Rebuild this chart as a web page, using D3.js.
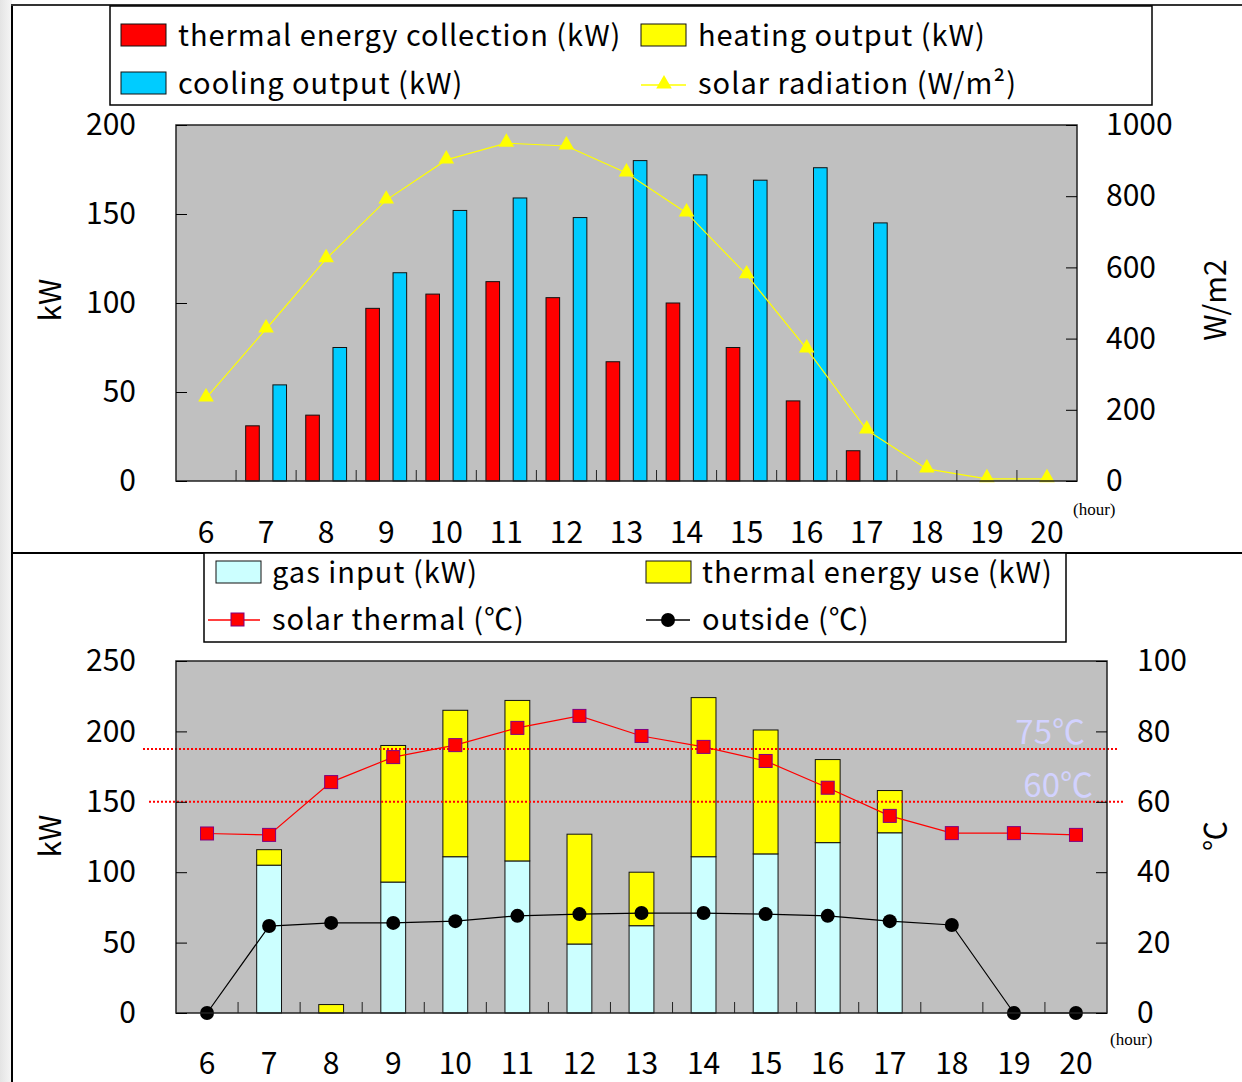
<!DOCTYPE html>
<html>
<head>
<meta charset="utf-8">
<script src="https://cdn.jsdelivr.net/npm/d3@7"></script>
<style>
body { margin: 0; background: #fff; }
svg { display: block; }
text { font-family: "Noto Sans CJK JP", "DejaVu Sans", sans-serif; fill: #000; }
</style>
</head>
<body>
<svg id="chart" width="1242" height="1082"></svg>
<script>
// hours on the x axis (both panels)
var hours = [6, 7, 8, 9, 10, 11, 12, 13, 14, 15, 16, 17, 18, 19, 20];

// top panel
var thermalCollection = [0, 31, 37, 97, 105, 112, 103, 67, 100, 75, 45, 17, 0, 0, 0];
var heatingOutput = [0, 0, 0, 0, 0, 0, 0, 0, 0, 0, 0, 0, 0, 0, 0];
var coolingOutput = [0, 54, 75, 117, 152, 159, 148, 180, 172, 169, 176, 145, 0, 0, 0];
var solarRadiation = [233, 427, 624, 789, 902, 949, 941, 865, 753, 579, 371, 143, 34, 6, 6];
var topKwTicks = [0, 50, 100, 150, 200];
var radTicks = [0, 200, 400, 600, 800, 1000];

// bottom panel
var gasInput = [0, 105, 0, 93, 111, 108, 49, 62, 111, 113, 121, 128, 0, 0, 0];
var thermalUse = [0, 11, 6, 97, 104, 114, 78, 38, 113, 88, 59, 30, 0, 0, 0];
var solarThermal = [51, 50.6, 65.6, 72.7, 76.1, 81, 84.4, 78.7, 75.6, 71.6, 64, 56, 51.1, 51.1, 50.6];
var outsideTemp = [0, 24.7, 25.6, 25.6, 26.1, 27.6, 28.1, 28.4, 28.4, 28.1, 27.6, 26.1, 25, 0, 0];
var bottomKwTicks = [0, 50, 100, 150, 200, 250];
var degTicks = [0, 20, 40, 60, 80, 100];
var refTemps = [75, 60];

var svg = d3.select("#chart");

// page frame
var grad = svg.append("defs").append("linearGradient").attr("id", "edge");
grad.append("stop").attr("offset", "0%").attr("stop-color", "#e4e4e4");
grad.append("stop").attr("offset", "100%").attr("stop-color", "#f6f6f6");
svg.append("rect").attr("x", 0).attr("y", 0).attr("width", 12).attr("height", 1082).attr("fill", "url(#edge)");
svg.append("line").attr("x1", 12).attr("x2", 12).attr("y1", 4).attr("y2", 1082).attr("stroke", "#000").attr("stroke-width", 2);
svg.append("line").attr("x1", 11).attr("x2", 1242).attr("y1", 5).attr("y2", 5).attr("stroke", "#333").attr("stroke-width", 2);
svg.append("line").attr("x1", 11).attr("x2", 1242).attr("y1", 553).attr("y2", 553).attr("stroke", "#000").attr("stroke-width", 2);

function hideDomain(g) { g.select(".domain").remove(); }

/** Top panel */
var tp = {left: 176, right: 1077, top: 125, bottom: 481};
var x1 = d3.scaleBand().domain(hours).range([tp.left, tp.right]).padding(0);
var xSub = d3.scaleBand().domain(["collect", "heat", "cool"])
    .range([x1.bandwidth() * 0.16, x1.bandwidth() * 0.84]).padding(0);
var y1 = d3.scaleLinear().domain([0, 200]).range([tp.bottom, tp.top]);
var y1r = d3.scaleLinear().domain([0, 1000]).range([tp.bottom, tp.top]);

svg.append("rect").attr("x", tp.left).attr("y", tp.top)
    .attr("width", tp.right - tp.left).attr("height", tp.bottom - tp.top)
    .attr("fill", "#c0c0c0");

var topRows = hours.map(function (h, i) {
    return {hour: h, collect: thermalCollection[i], heat: heatingOutput[i], cool: coolingOutput[i]};
});
var topColors = {collect: "#ff0000", heat: "#ffff00", cool: "#00ccff"};

svg.append("g").selectAll("g")
    .data(topRows)
    .enter().append("g")
    .attr("transform", function (d) { return "translate(" + x1(d.hour) + ",0)"; })
    .selectAll("rect")
    .data(function (d) {
        return ["collect", "heat", "cool"].filter(function (k) { return d[k] > 0; })
            .map(function (k) { return {key: k, value: d[k]}; });
    })
    .enter().append("rect")
    .attr("x", function (d) { return xSub(d.key); })
    .attr("y", function (d) { return y1(d.value); })
    .attr("width", xSub.bandwidth())
    .attr("height", function (d) { return y1(0) - y1(d.value); })
    .attr("fill", function (d) { return topColors[d.key]; })
    .attr("stroke", "#111").attr("stroke-width", 1);

// solar radiation line
var radLine = d3.line()
    .x(function (d, i) { return x1(hours[i]) + x1.bandwidth() / 2; })
    .y(function (d) { return y1r(d); });
svg.append("path").datum(solarRadiation)
    .attr("d", radLine).attr("fill", "none").attr("stroke", "#ffff00").attr("stroke-width", 1.2);
svg.append("g").selectAll("path")
    .data(solarRadiation)
    .enter().append("path")
    .attr("d", d3.symbol().type(d3.symbolTriangle).size(105))
    .attr("transform", function (d, i) {
        return "translate(" + (x1(hours[i]) + x1.bandwidth() / 2) + "," + (y1r(d) - 1) + ")";
    })
    .attr("fill", "#ffff00");

// plot border
svg.append("rect").attr("x", tp.left).attr("y", tp.top)
    .attr("width", tp.right - tp.left).attr("height", tp.bottom - tp.top)
    .attr("fill", "none").attr("stroke", "#222").attr("stroke-width", 1.5);

svg.append("g").attr("transform", "translate(" + tp.left + ",0)")
    .call(d3.axisLeft(y1).tickValues(topKwTicks).tickSize(-11).tickPadding(40))
    .call(hideDomain);
svg.append("g").attr("transform", "translate(" + tp.right + ",0)")
    .call(d3.axisRight(y1r).tickValues(radTicks).tickFormat(d3.format("d")).tickSize(-11).tickPadding(29))
    .call(hideDomain);
svg.append("g").attr("transform", "translate(0," + tp.bottom + ")")
    .call(d3.axisBottom(x1).tickSize(0).tickPadding(41))
    .call(hideDomain);
svg.append("g").selectAll("line")
    .data(hours.slice(0, -1))
    .enter().append("line")
    .attr("x1", function (d) { return x1(d) + x1.step(); })
    .attr("x2", function (d) { return x1(d) + x1.step(); })
    .attr("y1", tp.bottom).attr("y2", tp.bottom - 11)
    .attr("stroke", "#222");

/** Bottom panel */
var bp = {left: 176, right: 1107, top: 661, bottom: 1013};
var x2 = d3.scaleBand().domain(hours).range([bp.left, bp.right]).padding(0);
var y2 = d3.scaleLinear().domain([0, 250]).range([bp.bottom, bp.top]);
var y2r = d3.scaleLinear().domain([0, 100]).range([bp.bottom, bp.top]);
var barW = x2.bandwidth() * 0.4;

svg.append("rect").attr("x", bp.left).attr("y", bp.top)
    .attr("width", bp.right - bp.left).attr("height", bp.bottom - bp.top)
    .attr("fill", "#c0c0c0");

var bottomRows = hours.map(function (h, i) {
    return {hour: h, gas: gasInput[i], use: thermalUse[i]};
});
var stacked = d3.stack().keys(["gas", "use"])(bottomRows);
var bottomColors = {gas: "#ccffff", use: "#ffff00"};

svg.append("g").selectAll("g")
    .data(stacked)
    .enter().append("g")
    .attr("fill", function (d) { return bottomColors[d.key]; })
    .selectAll("rect")
    .data(function (d) { return d.filter(function (s) { return s[1] - s[0] > 0; }); })
    .enter().append("rect")
    .attr("x", function (d) { return x2(d.data.hour) + (x2.bandwidth() - barW) / 2; })
    .attr("y", function (d) { return y2(d[1]); })
    .attr("width", barW)
    .attr("height", function (d) { return y2(d[0]) - y2(d[1]); })
    .attr("stroke", "#111").attr("stroke-width", 1);

// 75 / 60 degree reference lines
svg.append("g").selectAll("line")
    .data(refTemps)
    .enter().append("line")
    .attr("x1", function (d, i) { return bp.left - (i === 0 ? 33 : 27); })
    .attr("x2", function (d, i) { return bp.right + (i === 0 ? 11 : 16); })
    .attr("y1", function (d) { return y2r(d); })
    .attr("y2", function (d) { return y2r(d); })
    .attr("stroke", "#ff0000").attr("stroke-width", 2).attr("stroke-dasharray", "2,2");
svg.append("g").selectAll("text")
    .data(refTemps)
    .enter().append("text")
    .attr("x", function (d, i) { return i === 0 ? 1085 : 1093; })
    .attr("y", function (d) { return y2r(d) - 5; })
    .attr("text-anchor", "end")
    .style("font-size", "33px")
    .style("fill", "#d2d2ff")
    .text(function (d) { return d + "℃"; });

var ptX = function (d, i) { return x2(hours[i]) + x2.bandwidth() / 2; };

svg.append("path").datum(outsideTemp)
    .attr("d", d3.line().x(ptX).y(function (d) { return y2r(d); }))
    .attr("fill", "none").attr("stroke", "#000").attr("stroke-width", 1.2);
svg.append("path").datum(solarThermal)
    .attr("d", d3.line().x(ptX).y(function (d) { return y2r(d); }))
    .attr("fill", "none").attr("stroke", "#ff0000").attr("stroke-width", 1.2);

svg.append("g").selectAll("circle")
    .data(outsideTemp)
    .enter().append("circle")
    .attr("cx", ptX)
    .attr("cy", function (d) { return y2r(d); })
    .attr("r", 7).attr("fill", "#000");
svg.append("g").selectAll("rect")
    .data(solarThermal)
    .enter().append("rect")
    .attr("x", function (d, i) { return ptX(d, i) - 6.5; })
    .attr("y", function (d) { return y2r(d) - 6.5; })
    .attr("width", 13).attr("height", 13)
    .attr("fill", "#ff0000").attr("stroke", "#800080").attr("stroke-width", 1);

svg.append("rect").attr("x", bp.left).attr("y", bp.top)
    .attr("width", bp.right - bp.left).attr("height", bp.bottom - bp.top)
    .attr("fill", "none").attr("stroke", "#222").attr("stroke-width", 1.5);

svg.append("g").attr("transform", "translate(" + bp.left + ",0)")
    .call(d3.axisLeft(y2).tickValues(bottomKwTicks).tickSize(-11).tickPadding(40))
    .call(hideDomain);
svg.append("g").attr("transform", "translate(" + bp.right + ",0)")
    .call(d3.axisRight(y2r).tickValues(degTicks).tickSize(-11).tickPadding(30))
    .call(hideDomain);
svg.append("g").attr("transform", "translate(0," + bp.bottom + ")")
    .call(d3.axisBottom(x2).tickSize(0).tickPadding(40))
    .call(hideDomain);
svg.append("g").selectAll("line")
    .data(hours.slice(0, -1))
    .enter().append("line")
    .attr("x1", function (d) { return x2(d) + x2.step(); })
    .attr("x2", function (d) { return x2(d) + x2.step(); })
    .attr("y1", bp.bottom).attr("y2", bp.bottom - 11)
    .attr("stroke", "#222");

// axis text sizes
svg.selectAll(".tick text").style("font-size", "30px")
    .style("font-family", "'Noto Sans CJK JP', 'DejaVu Sans', sans-serif");

// axis titles
function vTitle(x, y, t) {
    svg.append("text").attr("transform", "translate(" + x + "," + y + ") rotate(-90)")
        .attr("text-anchor", "middle").attr("dy", "0.35em")
        .style("font-size", "30px").text(t);
}
vTitle(50, 300, "kW");
vTitle(1215, 300, "W/m2");
vTitle(50, 836, "kW");
vTitle(1215, 836, "℃");

svg.append("text").attr("x", 1073).attr("y", 515)
    .style("font-family", "'Liberation Serif', serif").style("font-size", "17px").text("(hour)");
svg.append("text").attr("x", 1110).attr("y", 1045)
    .style("font-family", "'Liberation Serif', serif").style("font-size", "17px").text("(hour)");

/** Legends */
function legendBox(x, y, w, h) {
    svg.append("rect").attr("x", x).attr("y", y).attr("width", w).attr("height", h)
        .attr("fill", "#fff").attr("stroke", "#000").attr("stroke-width", 1.5);
}
function swatch(x, y, color) {
    svg.append("rect").attr("x", x).attr("y", y).attr("width", 45).attr("height", 22)
        .attr("fill", color).attr("stroke", "#111").attr("stroke-width", 1);
}
function label(x, y, t) {
    svg.append("text").attr("x", x).attr("y", y).attr("dy", "0.35em")
        .style("font-size", "29px").style("letter-spacing", "1px").text(t);
}

legendBox(110, 6, 1042, 99);
swatch(121, 24, "#ff0000");
label(178, 36, "thermal energy collection (kW)");
swatch(641, 24, "#ffff00");
label(698, 36, "heating output (kW)");
swatch(121, 72, "#00ccff");
label(178, 84, "cooling output (kW)");
svg.append("line").attr("x1", 641).attr("x2", 686).attr("y1", 85).attr("y2", 85)
    .attr("stroke", "#ffff00").attr("stroke-width", 1.5);
svg.append("path").attr("d", d3.symbol().type(d3.symbolTriangle).size(105)())
    .attr("transform", "translate(664,84)").attr("fill", "#ffff00");
label(698, 84, "solar radiation (W/m²)");

legendBox(204, 553, 862, 89);
swatch(216, 561, "#ccffff");
label(272, 573, "gas input (kW)");
swatch(646, 561, "#ffff00");
label(702, 573, "thermal energy use (kW)");
svg.append("line").attr("x1", 208).attr("x2", 260).attr("y1", 620).attr("y2", 620)
    .attr("stroke", "#ff0000").attr("stroke-width", 1.5);
svg.append("rect").attr("x", 231).attr("y", 613).attr("width", 13).attr("height", 13)
    .attr("fill", "#ff0000").attr("stroke", "#800080");
label(272, 620, "solar thermal (℃)");
svg.append("line").attr("x1", 646).attr("x2", 690).attr("y1", 620).attr("y2", 620)
    .attr("stroke", "#000").attr("stroke-width", 1.5);
svg.append("circle").attr("cx", 668).attr("cy", 620).attr("r", 7).attr("fill", "#000");
label(702, 620, "outside (℃)");
</script>
</body>
</html>
